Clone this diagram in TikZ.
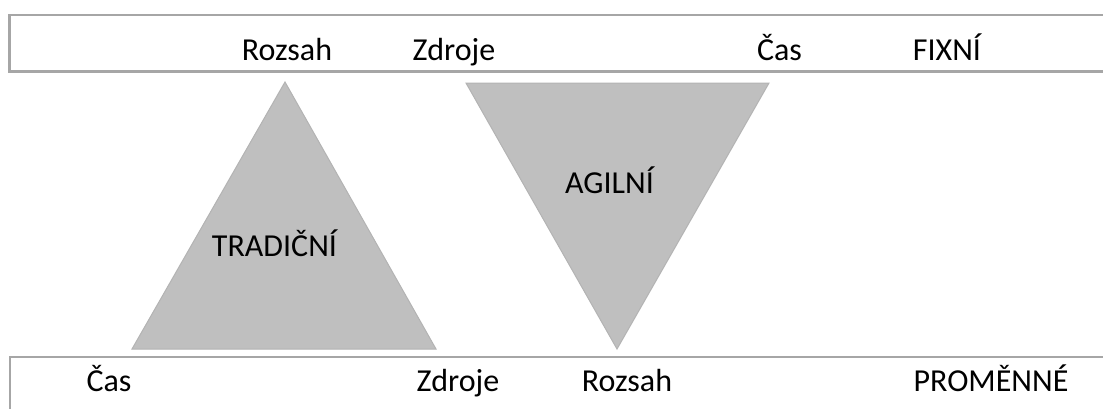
\documentclass[tikz,border=0pt]{standalone}
\usepackage{fontspec}
\setmainfont{Carlito}
\begin{document}
\begin{tikzpicture}[x=0.5pt,y=-0.5pt,
  band/.style={draw=bandgray,line width=1.25pt},
  tri/.style={fill=trigray,draw=triedge,line width=0.5pt,line join=miter},
  lbl/.style={anchor=base,inner sep=0pt,font=\fontsize{16pt}{19pt}\selectfont,text=black}]
\definecolor{bandgray}{HTML}{A6A6A6}
\definecolor{trigray}{HTML}{BFBFBF}
\definecolor{triedge}{HTML}{B3B3B3}
\useasboundingbox (0,0) rectangle (1103,408);
\clip (0,0) rectangle (1103,408);
% fixed and variable bands
\draw[band] (1110,15) -- (9.5,15) -- (9.5,71.5) -- (1110,71.5);
\draw[band] (1110,357) -- (10,357) -- (10,415);
% the two triangles
\path[tri] (285,82) -- (436,349) -- (132,349) -- cycle;
\path[tri] (466,83) -- (769,83) -- (617,349) -- cycle;
% labels of the fixed band
\node[lbl] (r1) at (287,60.5) {Rozsah};
\node[lbl] (z1) at (454,60.5) {Zdroje};
\node[lbl] (c1) at (779.5,60.5) {Čas};
\node[lbl] (fx) at (947,60.5) {FIXNÍ};
% triangle titles
\node[lbl] (tr) at (274.5,256.5) {TRADIČNÍ};
\node[lbl] (ag) at (609.5,193) {AGILNÍ};
% labels of the variable band
\node[lbl] (c2) at (109,391) {Čas};
\node[lbl] (z2) at (458,391) {Zdroje};
\node[lbl] (r2) at (627,391) {Rozsah};
\node[lbl] (pr) at (991,391) {PROMĚNNÉ};
\end{tikzpicture}
\end{document}
